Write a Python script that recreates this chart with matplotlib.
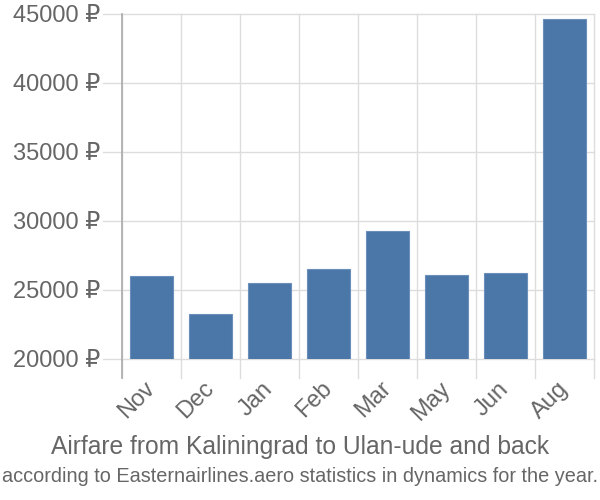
import matplotlib
matplotlib.use("Agg")
import matplotlib.pyplot as plt

months = ["Nov", "Dec", "Jan", "Feb", "Mar", "May", "Jun", "Aug"]
prices = [26010, 23240, 25480, 26500, 29300, 26090, 26210, 44620]
y_ticks = [20000, 25000, 30000, 35000, 40000, 45000]

title = "Airfare from Kaliningrad to Ulan-ude and back"
subtitle = "according to Easternairlines.aero statistics in dynamics for the year."

text_color = "#666666"
grid_color = "#dddddd"
bar_color = "#4a77a8"
fonts = ["Liberation Sans", "DejaVu Sans"]

fig = plt.figure(figsize=(6, 5), dpi=100)
ax = fig.add_axes([122 / 600, 1 - 359 / 500, 472 / 600, 345 / 500])

x = list(range(len(months)))
ax.bar(x, prices, width=0.72, color=bar_color, edgecolor="#6a8fbb",
       linewidth=0.8, zorder=3)

ax.set_xlim(-0.5, len(months) - 0.5)
ax.set_ylim(20000, 45000)

# grid: vertical lines sit between categories
for b in range(len(months) + 1):
    ax.plot([b - 0.5, b - 0.5], [20000, 45000], color=grid_color, lw=1,
            zorder=1, clip_on=False)
    ax.plot([b - 0.5, b - 0.5], [20000, 18600], color=grid_color, lw=1,
            zorder=1, clip_on=False)
for v in y_ticks:
    ax.plot([-0.82, len(months) - 0.5], [v, v], color=grid_color, lw=1,
            zorder=1, clip_on=False)
ax.plot([-0.5, -0.5], [18600, 45000], color="#aaaaaa", lw=1.2, zorder=4,
        clip_on=False)

for s in ax.spines.values():
    s.set_visible(False)

ax.set_yticks(y_ticks)
ax.set_yticklabels([f"{v} ₽" for v in y_ticks], fontsize=17,
                   color=text_color, family=fonts)
ax.tick_params(axis="y", length=0, pad=16)

ax.set_xticks(x)
ax.set_xticklabels(months, rotation=45, ha="right", va="center",
                   rotation_mode="anchor", fontsize=17, color=text_color,
                   family=fonts)
ax.tick_params(axis="x", length=0, pad=19)

fig.text(0.5, 1 - 447 / 500, title, ha="center", va="center", fontsize=17.7,
         color=text_color, family=fonts)
fig.text(0.5, 1 - 476 / 500, subtitle, ha="center", va="center",
         fontsize=14.3, color=text_color, family=fonts)

fig.savefig("out.png", dpi=100)
